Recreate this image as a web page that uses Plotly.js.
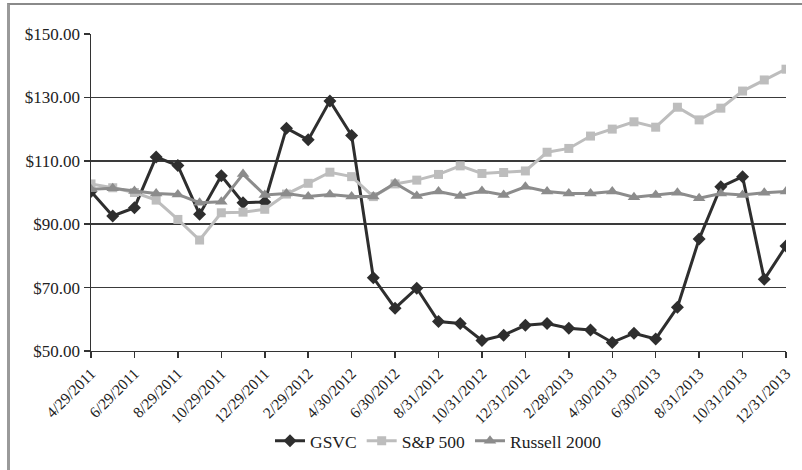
<!DOCTYPE html>
<html>
<head>
<meta charset="utf-8">
<script src="https://cdn.plot.ly/plotly-3.0.1.min.js"></script>
<style>
  html, body { margin: 0; padding: 0; background: #fff; }
  #wrap { position: relative; width: 802px; height: 470px; overflow: hidden; }
  #chart { position: absolute; left: 0; top: 0; width: 802px; height: 470px; }
  #frame { position: absolute; left: 7px; top: 3px; width: 820px; height: 500px;
           border-top: 2px solid #8a8a8a; border-left: 3px solid #9a9a9a; pointer-events: none; }
</style>
</head>
<body>
<div id="wrap">
  <div id="chart"></div>
  <div id="frame"></div>
</div>
<script>
const months = [
  "4/29/2011","5/31/2011","6/29/2011","7/29/2011","8/29/2011","9/30/2011",
  "10/29/2011","11/30/2011","12/29/2011","1/31/2012","2/29/2012","3/30/2012",
  "4/30/2012","5/31/2012","6/30/2012","7/31/2012","8/31/2012","9/30/2012",
  "10/31/2012","11/30/2012","12/31/2012","1/31/2013","2/28/2013","3/31/2013",
  "4/30/2013","5/31/2013","6/30/2013","7/31/2013","8/31/2013","9/30/2013",
  "10/31/2013","11/30/2013","12/31/2013"
];
const tickLabels = [
  "4/29/2011","6/29/2011","8/29/2011","10/29/2011","12/29/2011","2/29/2012",
  "4/30/2012","6/30/2012","8/31/2012","10/31/2012","12/31/2012","2/28/2013",
  "4/30/2013","6/30/2013","8/31/2013","10/31/2013","12/31/2013"
];
const gsvc = [
  100.3, 92.6, 95.2, 111.2, 108.5, 93.1, 105.3, 96.8, 97.0, 120.3, 116.6,
  128.9, 118.0, 73.1, 63.5, 69.8, 59.3, 58.7, 53.3, 55.0, 58.1, 58.7,
  57.2, 56.6, 52.7, 55.6, 53.8, 63.8, 85.3, 101.8, 105.0, 72.6, 83.1
];
const sp500 = [
  102.7, 101.5, 100.0, 97.6, 91.5, 85.0, 93.6, 93.8, 94.7, 99.5, 102.9,
  106.4, 105.0, 98.7, 102.7, 103.9, 105.7, 108.4, 106.0, 106.3, 106.8, 112.7,
  113.9, 117.8, 120.0, 122.3, 120.6, 126.9, 122.9, 126.6, 132.0, 135.5, 138.9
];
const russell = [
  101.0, 101.3, 100.5, 99.7, 99.4, 96.8, 97.1, 105.8, 99.2, 99.7, 98.7,
  99.4, 98.7, 98.7, 102.9, 98.9, 100.3, 98.9, 100.5, 99.2, 101.8, 100.3,
  99.7, 99.7, 100.3, 98.5, 99.2, 99.9, 98.2, 99.7, 99.2, 99.9, 100.3
];

const serif = "Liberation Serif, Times New Roman, serif";

const traces = [
  { x: months, y: gsvc, name: "GSVC", type: "scatter", mode: "lines+markers",
    line: { color: "#2e2e2e", width: 3 },
    marker: { symbol: "diamond", size: 10, color: "#2e2e2e" } },
  { x: months, y: sp500, name: "S&P 500", type: "scatter", mode: "lines+markers",
    line: { color: "#bdbdbd", width: 3 },
    marker: { symbol: "square", size: 9, color: "#bdbdbd" } },
  { x: months, y: russell, name: "Russell 2000", type: "scatter", mode: "lines+markers",
    line: { color: "#8c8c8c", width: 3 },
    marker: { symbol: "triangle-up", size: 11, color: "#8c8c8c" } }
];

const layout = {
  width: 802, height: 470,
  margin: { l: 91, r: 16, t: 34, b: 10 },
  paper_bgcolor: "#ffffff", plot_bgcolor: "rgba(0,0,0,0)",
  font: { family: serif, size: 16, color: "#222" },
  showlegend: true,
  legend: { orientation: "h", x: 0.5, xanchor: "center", y: 0.045, yanchor: "middle",
            font: { family: serif, size: 17.5, color: "#222" }, itemwidth: 30,
            bgcolor: "rgba(0,0,0,0)" },
  xaxis: {
    type: "category", range: [0, 32], automargin: false,
    tickmode: "array", tickvals: tickLabels, ticktext: tickLabels,
    tickangle: -45, tickfont: { family: serif, size: 15.5, color: "#222" },
    showgrid: false, showline: true, linecolor: "#333", linewidth: 1.5,
    ticks: "outside", ticklen: 6, tickcolor: "#333", tickwidth: 1.5,
    zeroline: false, fixedrange: true
  },
  yaxis: {
    domain: [0.2559, 1],
    range: [50, 150], dtick: 20, tick0: 50, automargin: false,
    tickprefix: "$", tickformat: ".2f",
    tickfont: { family: serif, size: 17, color: "#222" },
    showgrid: true, gridcolor: "#3a3a3a", gridwidth: 1.5,
    showline: true, linecolor: "#333", linewidth: 1.5,
    ticks: "outside", ticklen: 6, tickcolor: "#333", tickwidth: 1.5,
    zeroline: false, fixedrange: true
  }
};

Plotly.newPlot("chart", traces, layout, { displayModeBar: false, staticPlot: true });
</script>
</body>
</html>
